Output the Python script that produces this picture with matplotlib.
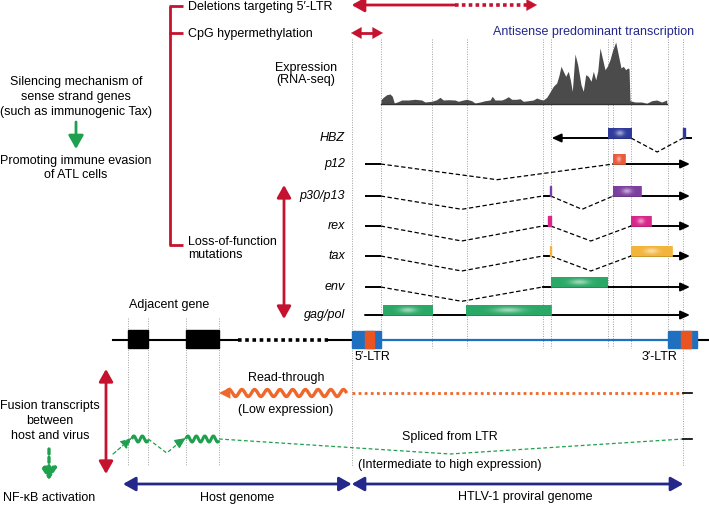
import numpy as np
import matplotlib
matplotlib.use('Agg')
import matplotlib.pyplot as plt
from matplotlib.patches import Rectangle

plt.rcParams['font.family'] = ['Liberation Sans', 'DejaVu Sans']

# ---- data (picture coordinates, pixels) ----
# x positions of the grey dotted guide lines across the provirus
guide_x = [351.7, 380.7, 432.3, 466.7, 542.7, 550.7, 607.7, 613.3, 631.0, 668.3, 683.3]
host_guide_x = [127.7, 148.3, 185.7, 219.0]

# RNA-seq coverage profile (x position, height above baseline)
rna_x = [381, 383.3, 386.7, 390, 392.3, 394.3, 399, 401.7, 408.3, 415, 421.7, 425,
         431.7, 436.7, 440, 443.3, 448.3, 455, 458.3, 463.3, 466.7, 471.7, 475, 480,
         485, 490, 492.3, 495, 501.7, 505, 508.3, 511.7, 516.7, 520, 523.3, 528.3,
         533.3, 536.7, 540, 543.3, 546.7, 550, 553.3, 556.7, 559, 561, 563.3, 565.7,
         568.3, 570.3, 572.3, 575, 577.7, 581, 583.3, 585.7, 588.3, 591, 593.3, 595.7,
         597.7, 600, 602.3, 605, 607.3, 610, 612.3, 615.7, 618.3, 621, 623.3, 625.7,
         627.7, 629, 630, 635, 641.7, 646.7, 651.7, 656.7, 661.7, 666.7]
rna_h = [4.3, 6.7, 9.3, 10, 7.7, 1, 2.7, 4, 4, 4.7, 4, 2,
         2.7, 4.3, 6.7, 4, 4.3, 4, 2.7, 4, 4.7, 3.3, 1, 2,
         3.3, 4, 7.7, 4, 4, 5.3, 7.3, 4.7, 4.7, 5.3, 2.7, 3.3,
         4, 6, 4.7, 4, 6.7, 12, 17.7, 21, 28.7, 37.7, 32.7, 27.7,
         32.7, 24.3, 12.7, 50, 39.3, 19.3, 12.7, 29.3, 27.7, 22.7, 32.7, 24.3,
         32.7, 56, 46, 34.3, 37.7, 44.3, 52.7, 62, 49.3, 36, 37.7, 34.3,
         36, 35.3, 3.3, 2, 2, 0.7, 3.3, 4, 2, 4]

# gene tracks of the provirus
track_names = ['HBZ', 'p12', 'p30/p13', 'rex', 'tax', 'env', 'gag/pol']
track_y = [139, 165, 197, 227, 257, 288, 316]
track_colors = ['#2f3a9c', '#ea5a3c', '#7d3f9f', '#d8268a', '#f2b43a', '#2aa866', '#2aa866']
track_boxes = [[(607.7, 631)], [(613.3, 625)], [(613.3, 641)], [(631, 651)],
               [(631, 671.7)], [(550.7, 607.3)], [(382.7, 432.3), (466.0, 550.7)]]
track_solid = [[(683.3, 691.7)],
               [(365, 380.7)],
               [(365, 380.7), (542.7, 550.7)],
               [(365, 380.7), (542.7, 550.7)],
               [(365, 380.7), (542.7, 550.7)],
               [(365, 380.7)],
               []]
track_arrow = [(631, 551.7), (613.3, 690), (613.3, 690), (631, 690), (631, 690), (542.7, 690), (365, 690)]
# introns: (start, end, depth)
track_introns = [[(631, 683.3, 14)],
                 [(380.7, 613.3, 15.7)],
                 [(380.7, 542.7, 13.3), (550.7, 613.3, 13.3)],
                 [(380.7, 542.7, 15), (550.7, 631, 15)],
                 [(380.7, 542.7, 15), (550.7, 631, 15)],
                 [(380.7, 542.7, 14.3)],
                 []]
# tiny first exons (x0, x1)
track_ticks = [(683.3, 684.5), None, (550.2, 551.2), (548.3, 550.7), (550.2, 551.2), None, None]

RED = '#c4122f'
NAVY = '#23288a'
GREEN = '#1ea04e'
ORANGE = '#f0672a'
LTR_BLUE = '#1f70c1'
LTR_ORANGE = '#ea5420'


def arrow(ax, x0, y0, x1, y1, color, lw=1.5, style='-|>', hl=0.75, hw=0.42, ls='-'):
    ax.annotate('', xy=(x1, y1), xytext=(x0, y0),
                arrowprops=dict(arrowstyle=f'{style},head_length={hl},head_width={hw}',
                                color=color, lw=lw, linestyle=ls,
                                shrinkA=0, shrinkB=0))


def gene_box(ax, x0, x1, y0, y1, color):
    # flat box with a soft highlight in the middle
    base = np.array(matplotlib.colors.to_rgb(color))
    gx = np.linspace(-1, 1, 60)
    gy = np.linspace(-1, 1, 12)
    X, Y = np.meshgrid(gx, gy)
    glow = np.exp(-(X ** 2 / 0.12 + Y ** 2 / 0.35)) * 0.55
    img = base[None, None, :] * (1 - glow[..., None]) + glow[..., None]
    ax.imshow(img, extent=(x0, x1, y1, y0), aspect='auto', interpolation='bilinear', zorder=4)
    ax.add_patch(Rectangle((x0, y0), x1 - x0, y1 - y0, fill=False, ec=color, lw=0.6, zorder=5))


def wave(ax, x0, x1, y, color, period=12.7, amp=3.5, lw=2.2):
    xs = np.linspace(x0, x1, 300)
    ys = y - amp * np.sin(2 * np.pi * (xs - x0) / period)
    ax.plot(xs, ys, color=color, lw=lw, solid_capstyle='butt', zorder=4)


fig = plt.figure(figsize=(7.09, 5.06), dpi=100)
ax = fig.add_axes([0, 0, 1, 1])

# guide lines
for x in guide_x:
    bottom = 467 if x in (351.7, 683.3) else 349
    ax.plot([x, x], [40, bottom], color='#a0a0a0', lw=0.7, ls=(0, (1, 1.5)), zorder=1)
for x in host_guide_x:
    ax.plot([x, x], [319, 467], color='#a0a0a0', lw=0.7, ls=(0, (1, 1.5)), zorder=1)

# ---- top annotations ----
ax.plot([170, 170], [7, 246], color=RED, lw=2, solid_capstyle='butt')
for yy in (7, 34, 246):
    ax.plot([169, 183], [yy, yy], color=RED, lw=2, solid_capstyle='butt')
ax.text(188, 7, 'Deletions targeting 5\u2032-LTR', fontsize=9, va='center')
ax.text(188, 34, 'CpG hypermethylation', fontsize=9, va='center')
ax.text(188, 242, 'Loss-of-function', fontsize=9, va='center')
ax.text(188, 255, 'mutations', fontsize=9, va='center')

arrow(ax, 455, 6, 351.7, 6, RED, lw=2)
ax.plot([455, 527], [6, 6], color=RED, lw=2.6, ls=(0, (1, 0.9)))
arrow(ax, 526, 6, 537, 6, RED, lw=0.1)
# CpG double arrow: two heads with a short shaft
ax.plot([358, 376], [34, 34], color=RED, lw=2, solid_capstyle='butt')
arrow(ax, 363, 34, 351, 34, RED, lw=0.1, hl=0.75, hw=0.42)
arrow(ax, 371, 34, 383, 34, RED, lw=0.1, hl=0.75, hw=0.42)
arrow(ax, 284, 186, 284, 320, RED, lw=2, style='<|-|>')

ax.text(694, 32, 'Antisense predominant transcription', fontsize=9, color=NAVY,
        ha='right', va='center')
ax.text(306, 74, 'Expression\n(RNA-seq)', fontsize=9, ha='center', va='center', linespacing=1.05)

# RNA-seq coverage
base_y = 105
ax.fill_between(rna_x, base_y, [base_y - h for h in rna_h], color='#4b4b4b', lw=0, zorder=3)
ax.plot([381, 667], [base_y, base_y], color='#333333', lw=1, zorder=3)

# left side text
ax.text(76, 97, 'Silencing mechanism of\nsense strand genes\n(such as immunogenic Tax)',
        fontsize=9, ha='center', va='center', linespacing=1.3)
arrow(ax, 76, 123, 76, 150, GREEN, lw=2, hl=0.8, hw=0.45)
ax.text(76, 168, 'Promoting immune evasion\nof ATL cells', fontsize=9, ha='center',
        va='center', linespacing=1.3)

# ---- gene tracks ----
for name, y, col, boxes, solids, arr, introns, tick in zip(
        track_names, track_y, track_colors, track_boxes, track_solid,
        track_arrow, track_introns, track_ticks):
    ax.text(345, y - 1, name, fontsize=9, style='italic', ha='right', va='center')
    for a, b in solids:
        ax.plot([a, b], [y, y], color='black', lw=1.4, solid_capstyle='butt', zorder=3)
    arrow(ax, arr[0], y, arr[1], y, 'black', lw=1.4, hl=0.55, hw=0.25)
    for a, b, d in introns:
        ax.plot([a, (a + b) / 2, b], [y, y + d, y], color='black', lw=0.9,
                ls=(0, (3.5, 2)), zorder=3)
    for a, b in boxes:
        gene_box(ax, a, b, y - 10, y, col)
    if tick is not None:
        ax.add_patch(Rectangle((tick[0], y - 10), tick[1] - tick[0], 10, color=col, zorder=4))

# ---- genome line ----
ax.plot([113, 238], [340.5, 340.5], color='black', lw=1.5)
ax.plot([238, 328], [340.5, 340.5], color='black', lw=2.6, ls=(0, (1, 1)))
ax.plot([328, 352], [340.5, 340.5], color='black', lw=1.5)
ax.plot([697, 708], [340.5, 340.5], color='black', lw=1.5)
ax.plot([380.7, 668.3], [340.5, 340.5], color=LTR_BLUE, lw=1.6)
for x0, x1 in [(127.7, 148.3), (185.7, 219)]:
    ax.add_patch(Rectangle((x0, 331), x1 - x0, 18, color='black', zorder=4))
for x0 in (351.7, 668.3):
    ax.add_patch(Rectangle((x0, 332), 29, 17, color=LTR_BLUE, zorder=4))
    ax.add_patch(Rectangle((x0 + 13, 332), 9.5, 17, color=LTR_ORANGE, zorder=5))
ax.text(169, 305, 'Adjacent gene', fontsize=9, ha='center', va='center')
ax.text(355, 357, '5\u2032-LTR', fontsize=9, ha='left', va='center')
ax.text(677, 357, '3\u2032-LTR', fontsize=9, ha='right', va='center')

# ---- fusion transcripts ----
arrow(ax, 106, 370, 106, 475, RED, lw=2, style='<|-|>')
ax.text(50, 421, 'Fusion transcripts\nbetween\nhost and virus', fontsize=9, ha='center',
        va='center', linespacing=1.3)
arrow(ax, 49, 450, 49, 481, GREEN, lw=2.4, ls=(0, (1.5, 1)), hl=0.7, hw=0.45)
ax.text(49, 498, 'NF-\u03baB activation', fontsize=9, ha='center', va='center')

# read-through
wave(ax, 226, 346.7, 394, ORANGE, lw=2.4)
arrow(ax, 231, 394, 219, 394, ORANGE, lw=0.1, hl=0.8, hw=0.4)
ax.plot([352, 683.3], [394, 394], color=ORANGE, lw=2, ls=(0, (1, 1.2)))
ax.plot([683.3, 692], [394, 394], color='black', lw=1.2)
ax.text(286, 378, 'Read-through', fontsize=9, ha='center', va='center')
ax.text(286, 410, '(Low expression)', fontsize=9, ha='center', va='center')

# spliced from LTR
arrow(ax, 113, 455, 131.7, 439, GREEN, lw=0.9, ls=(0, (3, 2)), hl=0.65, hw=0.3)
wave(ax, 131.7, 148.3, 440, GREEN, period=8.5, amp=3, lw=2.2)
ax.plot([148.3, 166.7, 180], [440, 454, 443], color=GREEN, lw=0.9, ls=(0, (3, 2)))
arrow(ax, 177, 445, 185.7, 439, GREEN, lw=0.9, hl=0.65, hw=0.3)
wave(ax, 185.7, 219, 440, GREEN, period=8.5, amp=3, lw=2.2)
ax.plot([219, 450, 683.3], [440, 455, 440], color=GREEN, lw=0.9, ls=(0, (3, 2)))
ax.plot([683.3, 692], [440, 440], color='black', lw=1.2)
ax.text(450, 437, 'Spliced from LTR', fontsize=9, ha='center', va='center')
ax.text(450, 465, '(Intermediate to high expression)', fontsize=9, ha='center', va='center')

# genome extents
arrow(ax, 123, 485, 351.7, 485, NAVY, lw=2, style='<|-|>')
arrow(ax, 351.7, 485, 683.3, 485, NAVY, lw=2, style='<|-|>')
ax.text(237, 498, 'Host genome', fontsize=9, ha='center', va='center')
ax.text(525, 497, 'HTLV-1 proviral genome', fontsize=9, ha='center', va='center')

ax.set_xlim(0, 709)
ax.set_ylim(506, 0)
ax.axis('off')
fig.savefig('out.png', dpi=100)
